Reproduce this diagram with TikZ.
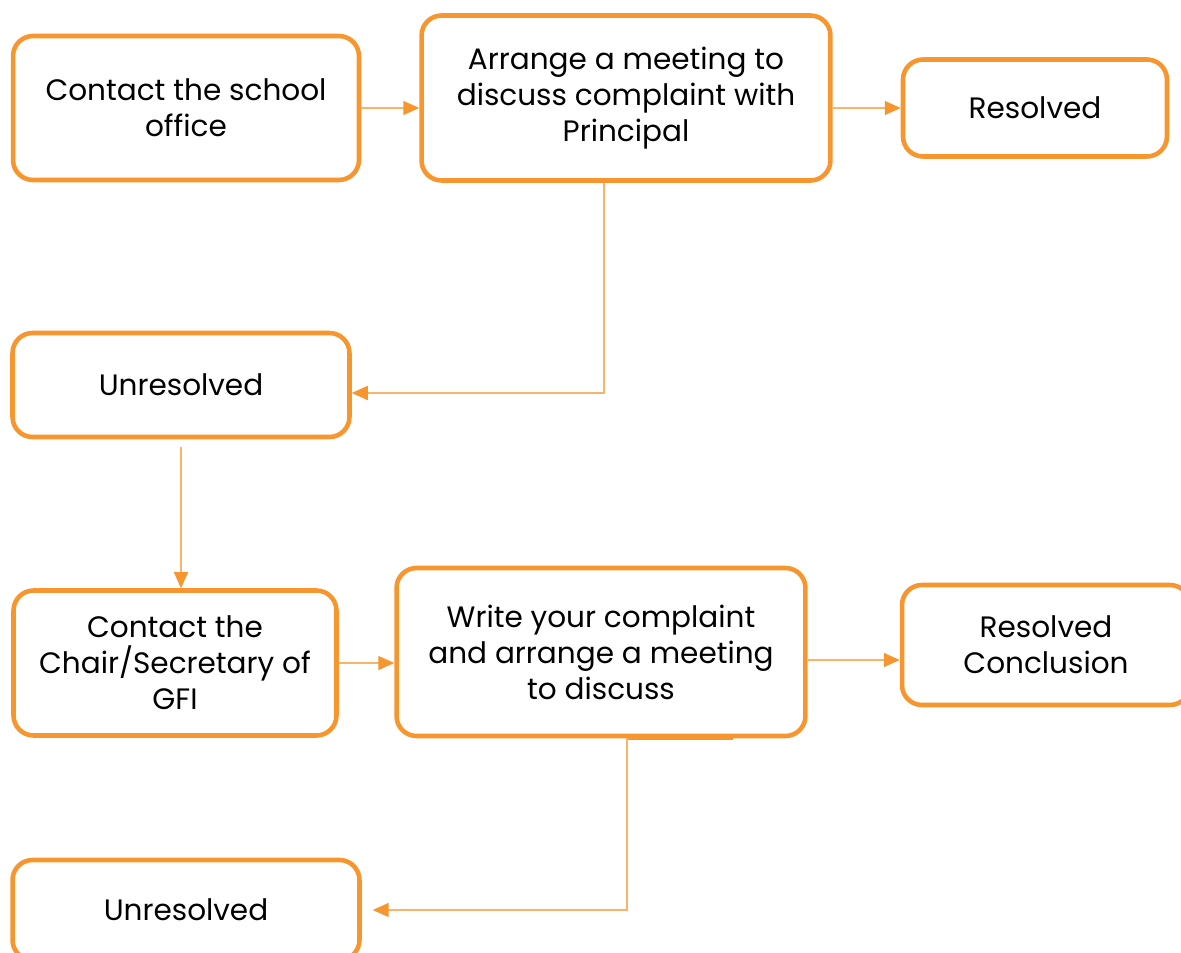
\documentclass[tikz,border=0pt]{standalone}
\usepackage{fontspec}
\setmainfont{Poppins}
\usepackage{xcolor}
\usetikzlibrary{arrows.meta}
\definecolor{boxorange}{HTML}{F7962F}
\definecolor{lineorange}{HTML}{F9B36A}
\tikzstyle{box}=[rectangle,rounded corners=0.4cm,draw=boxorange,line width=2.6pt,align=center,inner sep=0pt,font=\fontsize{16.8}{20.5}\selectfont]
\tikzstyle{link}=[draw=lineorange,line width=0.9pt,-{Triangle[length=0.32cm,width=0.28cm,color=boxorange]}]

\begin{document}
\begin{tikzpicture}[x=0.02cm,y=-0.02cm]
        \clip (0,0) rectangle (1181,953);

        \node at (186,108) [box,minimum width=6.92cm,minimum height=2.88cm] (office) {Contact the school\\office};
        \node at (626,98)  [box,minimum width=8.18cm,minimum height=3.3cm]  (meeting) {Arrange a meeting to\\discuss complaint with\\Principal};
        \node at (1035,108) [box,minimum width=5.28cm,minimum height=1.94cm] (resolved) {Resolved};
        \node at (181,385) [box,minimum width=6.74cm,minimum height=2.08cm] (unres) {Unresolved};
        \node at (175,663) [box,minimum width=6.46cm,minimum height=2.9cm]  (chair) {Contact the\\Chair/Secretary of\\GFI};
        \node at (601,652) [box,minimum width=8.18cm,minimum height=3.36cm] (write) {Write your complaint\\and arrange a meeting\\to discuss};
        \node at (1046,645) [box,minimum width=5.76cm,minimum height=2.4cm] (concl) {Resolved\\Conclusion};
        \node at (186,910) [box,minimum width=6.94cm,minimum height=2cm]   (unresb) {Unresolved};

        \draw [link] (office.east) -- (office.east -| meeting.west);
        \draw [link] (meeting.east |- resolved.west) -- (resolved.west);
        \draw [link] ([xshift=-0.44cm]meeting.south) |- ([yshift=-0.16cm]unres.east);
        \draw [link,shorten <=0.16cm] (unres.south) -- (unres.south |- chair.north);
        \draw [link] (chair.east) -- (chair.east -| write.west);
        \draw [link] ([yshift=-0.16cm]write.east) -- ([yshift=-0.16cm]write.east -| concl.west);
        \draw [boxorange,line width=2pt] ([xshift=0.52cm]write.south) -- ([xshift=2.64cm]write.south);
        \draw [link,shorten >=0.22cm] ([xshift=0.52cm]write.south) |- (unresb.east);
      \end{tikzpicture}
\end{document}
